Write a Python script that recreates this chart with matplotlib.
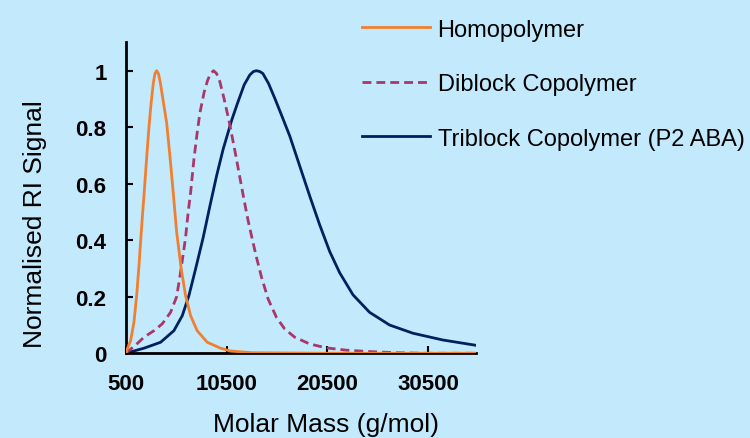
import matplotlib
matplotlib.use('Agg')
import matplotlib.pyplot as plt

# molar mass (g/mol) and normalised RI signal
homo_mass = [500, 630, 960, 1290, 1560, 1790, 1960, 2160, 2290, 2550, 2780, 2980,
             3210, 3380, 3545, 3720, 3900, 4200, 4540, 4860, 5190, 5530, 5990,
             6420, 6920, 7570, 8570, 9890, 10890, 13000, 20000, 35300]
homo_signal = [0, 0.015, 0.045, 0.11, 0.204, 0.31, 0.40, 0.50, 0.56, 0.69, 0.80, 0.88,
               0.955, 0.99, 1.0, 0.99, 0.96, 0.892, 0.815, 0.70, 0.57, 0.43, 0.298,
               0.204, 0.133, 0.08, 0.039, 0.018, 0.008, 0.002, 0, 0]

di_mass = [500, 800, 1460, 2290, 3280, 4100, 4930, 5530, 5850, 6100, 6420, 6680, 6920,
           7250, 7570, 7840, 8270, 8600, 8900, 9200, 9500, 9820, 10250, 10750, 11410,
           11980, 12300, 12630, 13070, 13460, 13960, 14620, 15450, 16270, 17260, 18750,
           20410, 22390, 24700, 27350, 30000, 35300]
di_signal = [0, 0.01, 0.029, 0.057, 0.08, 0.104, 0.145, 0.20, 0.27, 0.33, 0.41, 0.50, 0.569,
             0.687, 0.78, 0.85, 0.925, 0.965, 0.99, 1.0, 0.99, 0.962, 0.90, 0.82, 0.70,
             0.59, 0.53, 0.47, 0.40, 0.34, 0.27, 0.192, 0.127, 0.086, 0.057, 0.033,
             0.019, 0.011, 0.006, 0.002, 0, 0]

tri_mass = [500, 970, 2290, 3940, 5260, 6090, 6750, 7410, 8170, 8830, 9500, 10150, 11020,
            11580, 12240, 12800, 13150, 13460, 13800, 14100, 14660, 15310, 16040, 16770,
            17760, 18750, 19740, 20740, 21730, 23050, 24700, 26690, 29000, 31980, 35300]
tri_signal = [0, 0.005, 0.018, 0.039, 0.08, 0.133, 0.204, 0.298, 0.41, 0.52, 0.628, 0.722,
              0.827, 0.885, 0.95, 0.985, 0.997, 1.0, 0.997, 0.99, 0.955, 0.90, 0.835, 0.769,
              0.663, 0.557, 0.455, 0.36, 0.285, 0.207, 0.145, 0.1, 0.071, 0.047, 0.028]

x_ticks = [500, 10500, 20500, 30500]
y_ticks = [0, 0.2, 0.4, 0.6, 0.8, 1]
y_tick_labels = ['0', '0.2', '0.4', '0.6', '0.8', '1']

bg = '#C2E9FC'
plt.rcParams['font.family'] = ['Liberation Sans', 'DejaVu Sans']

fig = plt.figure(figsize=(7.5, 4.39), dpi=100, facecolor=bg)
ax = fig.add_axes([0.168, 0.193, 0.467, 0.708], facecolor=bg)

ax.plot(tri_mass, tri_signal, color='#002060', lw=2.0, label='Triblock Copolymer (P2 ABA)', zorder=2)
ax.plot(di_mass, di_signal, color='#A8376A', lw=2.0, dashes=(3.2, 1.8), label='Diblock Copolymer', zorder=3)
ax.plot(homo_mass, homo_signal, color='#F08030', lw=2.0, label='Homopolymer', zorder=4)

ax.set_xlim(500, 35300)
ax.set_ylim(0, 1.1)
ax.set_xticks(x_ticks)
ax.set_xticklabels([str(t) for t in x_ticks], fontweight='bold', fontsize=16)
ax.set_yticks(y_ticks)
ax.set_yticklabels(y_tick_labels, fontweight='bold', fontsize=16)
ax.tick_params(direction='in', length=5, width=1.5, pad=14)

for side in ['top', 'right']:
    ax.spines[side].set_visible(False)
for side in ['left', 'bottom']:
    ax.spines[side].set_linewidth(2)

fig.text(0.435, 0.032, 'Molar Mass (g/mol)', fontsize=19, ha='center', va='center')
fig.text(0.047, 0.49, 'Normalised RI Signal', fontsize=19, ha='center', va='center',
         rotation=90)

handles, labels = ax.get_legend_handles_labels()
order = [2, 1, 0]
ax.legend([handles[i] for i in order], [labels[i] for i in order],
          loc='upper left', bbox_to_anchor=(0.47, 0.977), bbox_transform=fig.transFigure,
          frameon=False, fontsize=17, handlelength=2.9, handletextpad=0.3,
          labelspacing=1.38, borderaxespad=0)

fig.savefig('out.png', dpi=100, facecolor=bg)
